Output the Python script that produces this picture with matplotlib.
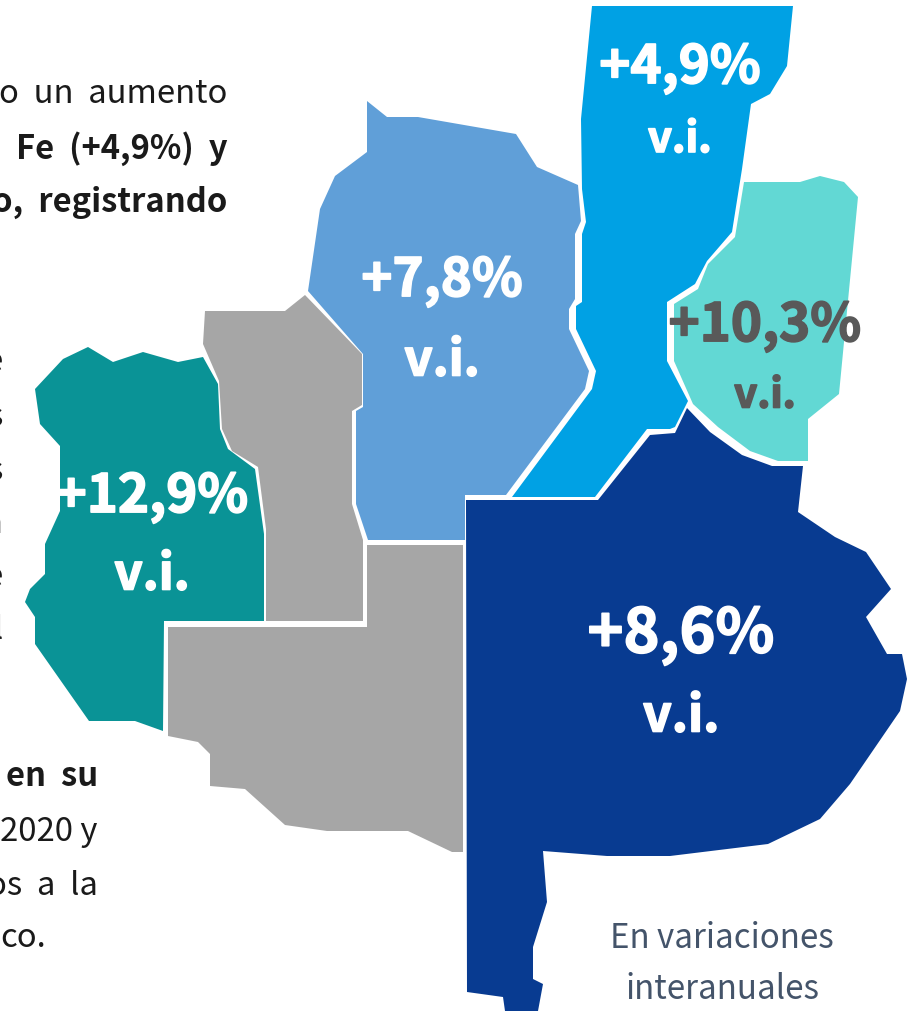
import matplotlib
matplotlib.use("Agg")
import matplotlib.pyplot as plt
import matplotlib.patheffects as pe
from matplotlib.patches import Polygon

W, H = 915, 1012
FONT = ["Noto Sans CJK JP", "DejaVu Sans"]

region_norte = [(592,7),(793,7),(787,67),(770,95),(751,105),(742,170),(732,233),(707,262),(695,285),(667,303),
                (667,362),(688,402),(675,428),(670,430),(647,430),(595,498),(512,498),(592,390),(596,372),
                (576,330),(576,307),(582,303),(582,235),(586,223),(582,190),(581,120)]
region_centro = [(367,102),(387,118),(418,118),(516,135),(537,168),(578,186),(581,222),(575,235),(575,300),
                 (569,310),(569,330),(589,372),(585,390),(506,496),(465,496),(465,541),(368,541),(356,505),
                 (356,412),(363,408),(363,355),(308,292),(320,210),(335,177),(367,153)]
region_turquesa = [(744,183),(800,183),(820,177),(844,183),(858,198),(839,395),(808,420),(808,462),(778,462),
                   (750,452),(718,428),(693,405),(674,362),(674,305),(698,290),(708,265),(735,238)]
region_sur = [(466,501),(598,501),(650,436),(675,434),(687,409),(710,433),(742,456),(772,467),(803,467),(798,513),
              (835,538),(866,553),(891,590),(866,618),(887,655),(902,655),(907,680),(900,712),(850,785),(820,820),
              (768,845),(670,857),(607,857),(543,852),(547,903),(533,948),(533,980),(543,985),(538,1012),(505,1012),
              (503,998),(467,993)]
region_oeste = [(35,390),(63,360),(88,348),(113,363),(143,353),(178,363),(203,358),(218,385),(220,430),(228,450),
                (255,470),(264,535),(264,622),(164,622),(163,732),(135,722),(89,722),(35,645),(35,618),(25,603),
                (30,590),(45,575),(45,545),(60,512),(60,447),(40,425)]
region_gris1 = [(205,312),(285,312),(305,296),(362,355),(362,406),(352,412),(352,505),(363,541),(363,622),
                (266,622),(266,530),(258,468),(232,452),(222,430),(219,382),(203,345)]
region_gris2 = [(168,628),(367,628),(367,546),(463,546),(463,853),(452,853),(408,832),(327,832),(285,826),
                (245,790),(210,787),(210,755),(198,743),(168,737)]

regiones = [region_gris1, region_gris2, region_oeste, region_centro, region_norte, region_turquesa, region_sur]
colores = ["#A6A6A6", "#A6A6A6", "#0A9396", "#609FD8", "#00A1E4", "#62D8D4", "#083B91"]

etiquetas = ["+12,9%", "+7,8%", "+4,9%", "+10,3%", "+8,6%"]
etiqueta_x = [152, 442, 680, 765, 681]
etiqueta_y = [498, 282, 69, 327, 636]
vi_y = [576, 362, 141, 397, 718]
etiqueta_size = [38, 38, 38, 38, 44]
vi_size = [35.5, 35.5, 30, 29, 36]
etiqueta_color = ["white", "white", "white", "#595959", "white"]

# parrafos cortados por el borde izquierdo: (palabras, borde derecho, y, negrita)
lineas = [
    ("o  un  aumento", 227, 94, False),
    ("Fe  (+4,9%)  y", 227, 149, True),
    ("o,  registrando", 227, 202, True),
    ("e", 3, 362, False),
    ("s", 3, 417, False),
    ("s", 3, 471, False),
    ("n", 3, 524, False),
    ("e", 3, 577, False),
    ("l", 3, 630, False),
    ("en  su", 98, 777, True),
    ("2020 y", 98, 832, False),
    ("os  a  la", 98, 886, False),
    ("co.", 46, 938, False),
]
nota = ["En variaciones", "interanuales"]
nota_y = [939, 990]

fig = plt.figure(figsize=(W / 100, H / 100), dpi=100, facecolor="white")
ax = fig.add_axes([0, 0, 1, 1])
ax.set_xlim(0, W)
ax.set_ylim(H, 0)
ax.axis("off")

for pts, c in zip(regiones, colores):
    ax.add_patch(Polygon(pts, closed=True, facecolor=c, edgecolor="none", zorder=2))

for i, lab in enumerate(etiquetas):
    # trazo fino porque la negrita del original es mas gruesa
    grueso = [pe.withStroke(linewidth=1.2, foreground=etiqueta_color[i])]
    ax.text(etiqueta_x[i], etiqueta_y[i], lab, family=FONT, fontsize=etiqueta_size[i], fontweight="bold",
            color=etiqueta_color[i], ha="center", va="center", zorder=5, path_effects=grueso)
    ax.text(etiqueta_x[i], vi_y[i], "v.i.", family=FONT, fontsize=vi_size[i], fontweight="bold",
            color=etiqueta_color[i], ha="center", va="center", zorder=5, path_effects=grueso)

for txt, xr, y, bold in lineas:
    ax.text(xr, y, txt, family=FONT, fontsize=23.6, fontweight="bold" if bold else "normal",
            color="#1A1A1A", ha="right", va="center", zorder=3)

for txt, y in zip(nota, nota_y):
    ax.text(722, y, txt, family=FONT, fontsize=23.8, color="#44546A", ha="center", va="center", zorder=3)

fig.savefig("out.png", dpi=100, facecolor="white")
